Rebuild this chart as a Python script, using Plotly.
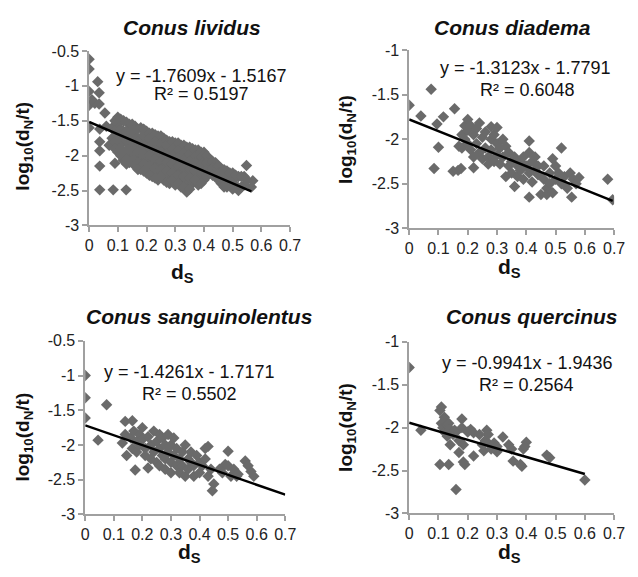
import plotly.graph_objects as go

# The page body keeps the browser's default 8px margin, so the figure is
# sized to fill the 638x577 window exactly inside that margin.
WIN_W, WIN_H, OFF = 638, 577, 8
W, H = WIN_W - 2 * OFF, WIN_H - 2 * OFF

titles = ["Conus lividus", "Conus diadema", "Conus sanguinolentus", "Conus quercinus"]
slopes = [-1.7609, -1.3123, -1.4261, -0.9941]
intercepts = [-1.5167, -1.7791, -1.7171, -1.9436]
r2 = [0.5197, 0.6048, 0.5502, 0.2564]
line_x_end = [0.565, 0.695, 0.70, 0.60]
y_tops = [-0.5, -1, -0.5, -1]

x_ticks = [0, 0.1, 0.2, 0.3, 0.4, 0.5, 0.6, 0.7]
x_tick_labels = ["0", "0.1", "0.2", "0.3", "0.4", "0.5", "0.6", "0.7"]
y_ticks = [-3, -2.5, -2, -1.5, -1, -0.5]
y_tick_labels = ["-3", "-2.5", "-2", "-1.5", "-1", "-0.5"]

# Conus lividus
liv_x = [0, 0, 0, 0, 0, 0.03, 0.035, 0.035, 0.02, 0.01, 0.055, 0.037, 0.037, 0.037, 0.037, 0.037, 0.084, 0.129, 0.09, 0.07, 0.06, 0.12,
         0.08, 0.08, 0.1, 0.1, 0.1, 0.1, 0.1, 0.12, 0.12, 0.12, 0.12, 0.12,
         0.14, 0.14, 0.14, 0.14, 0.14, 0.16, 0.16, 0.16, 0.16, 0.16,
         0.18, 0.18, 0.18, 0.18, 0.18, 0.2, 0.2, 0.2, 0.2, 0.2, 0.2,
         0.22, 0.22, 0.22, 0.22, 0.22, 0.22, 0.24, 0.24, 0.24, 0.24, 0.24, 0.24,
         0.26, 0.26, 0.26, 0.26, 0.26, 0.26, 0.28, 0.28, 0.28, 0.28, 0.28, 0.28,
         0.30, 0.30, 0.30, 0.30, 0.30, 0.30, 0.32, 0.32, 0.32, 0.32, 0.32, 0.32,
         0.34, 0.34, 0.34, 0.34, 0.34, 0.34, 0.36, 0.36, 0.36, 0.36, 0.36,
         0.38, 0.38, 0.38, 0.38, 0.38, 0.40, 0.40, 0.40, 0.40,
         0.42, 0.42, 0.42, 0.44, 0.44, 0.44, 0.46, 0.46, 0.46, 0.48, 0.48, 0.48,
         0.50, 0.50, 0.50, 0.52, 0.548, 0.52, 0.54, 0.54, 0.565, 0.57,
         0.09, 0.09, 0.09, 0.09, 0.11, 0.11, 0.11, 0.11, 0.11,
         0.13, 0.13, 0.13, 0.13, 0.13, 0.13, 0.15, 0.15, 0.15, 0.15, 0.15,
         0.17, 0.17, 0.17, 0.17, 0.17, 0.19, 0.19, 0.19, 0.19, 0.19, 0.19,
         0.21, 0.21, 0.21, 0.21, 0.21, 0.21, 0.23, 0.23, 0.23, 0.23, 0.23, 0.23,
         0.25, 0.25, 0.25, 0.25, 0.25, 0.25, 0.27, 0.27, 0.27, 0.27, 0.27, 0.27,
         0.29, 0.29, 0.29, 0.29, 0.29, 0.29, 0.31, 0.31, 0.31, 0.31, 0.31, 0.31,
         0.33, 0.33, 0.33, 0.33, 0.33, 0.33, 0.35, 0.35, 0.35, 0.35, 0.35, 0.35,
         0.37, 0.37, 0.37, 0.37, 0.37, 0.39, 0.39, 0.39, 0.39, 0.39,
         0.41, 0.41, 0.41, 0.41, 0.43, 0.43, 0.43, 0.45, 0.45, 0.45,
         0.47, 0.47, 0.47, 0.49, 0.49, 0.51, 0.51, 0.53, 0.53, 0.55]
liv_y = [-0.62, -0.76, -1.08, -1.28, -1.6, -0.94, -1.1, -1.26, -1.25, -1.2, -1.39, -1.62, -1.8, -1.93, -2.15, -2.49, -2.49, -2.49, -2.11, -1.85, -1.58, -2.07,
         -1.6, -1.75, -1.45, -1.55, -1.7, -1.85, -1.95, -1.5, -1.65, -1.8, -1.95, -2.05,
         -1.55, -1.7, -1.85, -2.0, -2.1, -1.58, -1.72, -1.88, -2.02, -2.15,
         -1.6, -1.75, -1.9, -2.05, -2.2, -1.65, -1.78, -1.92, -2.05, -2.18, -2.25,
         -1.68, -1.82, -1.95, -2.1, -2.2, -2.3, -1.72, -1.85, -2.0, -2.12, -2.25, -2.35,
         -1.75, -1.88, -2.02, -2.15, -2.28, -2.35, -1.8, -1.92, -2.05, -2.18, -2.3, -2.4,
         -1.82, -1.95, -2.08, -2.2, -2.32, -2.42, -1.85, -1.98, -2.1, -2.22, -2.35, -2.45,
         -1.88, -2.0, -2.12, -2.25, -2.38, -2.52, -1.9, -2.03, -2.15, -2.28, -2.4,
         -1.92, -2.05, -2.18, -2.3, -2.42, -1.95, -2.1, -2.22, -2.35,
         -2.05, -2.15, -2.25, -2.1, -2.2, -2.3, -2.18, -2.28, -2.4, -2.22, -2.3, -2.45,
         -2.25, -2.35, -2.48, -2.3, -2.14, -2.5, -2.3, -2.42, -2.45, -2.36,
         -1.5, -1.65, -1.8, -1.9, -1.48, -1.62, -1.75, -1.9, -2.0,
         -1.52, -1.65, -1.78, -1.92, -2.05, -2.12, -1.55, -1.65, -1.8, -1.95, -2.08,
         -1.62, -1.8, -1.95, -2.1, -2.2, -1.62, -1.7, -1.85, -1.98, -2.12, -2.22,
         -1.68, -1.75, -1.88, -2.0, -2.15, -2.28, -1.7, -1.8, -1.92, -2.05, -2.18, -2.32,
         -1.72, -1.82, -1.95, -2.08, -2.2, -2.3, -1.78, -1.85, -1.98, -2.1, -2.22, -2.38,
         -1.8, -1.9, -2.0, -2.12, -2.25, -2.35, -1.82, -1.92, -2.02, -2.15, -2.28, -2.4,
         -1.85, -1.95, -2.05, -2.18, -2.3, -2.45, -1.88, -1.98, -2.08, -2.2, -2.32, -2.48,
         -1.92, -2.0, -2.1, -2.22, -2.35, -1.95, -2.02, -2.12, -2.25, -2.4,
         -2.0, -2.1, -2.2, -2.3, -2.08, -2.18, -2.28, -2.15, -2.25, -2.35,
         -2.2, -2.32, -2.45, -2.25, -2.38, -2.28, -2.42, -2.3, -2.45, -2.35]

# Conus diadema
dia_x = [0, 0.04, 0.075, 0.095, 0.117, 0.155, 0.1, 0.085, 0.15, 0.167, 0.177,
         0.17, 0.18, 0.18, 0.19, 0.19, 0.2, 0.2, 0.2, 0.21, 0.21, 0.22, 0.22, 0.22, 0.23, 0.23, 0.24, 0.24,
         0.25, 0.25, 0.26, 0.26, 0.27, 0.27, 0.28, 0.28, 0.28, 0.29, 0.29, 0.3, 0.3, 0.3, 0.31, 0.31,
         0.32, 0.32, 0.33, 0.33, 0.34, 0.34, 0.35, 0.35, 0.36, 0.36, 0.37, 0.37, 0.38, 0.38, 0.39, 0.39,
         0.4, 0.41, 0.41, 0.41, 0.41, 0.42, 0.42, 0.43, 0.43, 0.44, 0.44, 0.45, 0.46, 0.46, 0.47, 0.47,
         0.48, 0.48, 0.49, 0.49, 0.5, 0.5, 0.51, 0.52, 0.52, 0.53, 0.54, 0.55, 0.555, 0.56, 0.57, 0.58,
         0.678, 0.695]
dia_y = [-1.62, -1.74, -1.44, -1.83, -1.75, -1.66, -2.09, -2.33, -2.36, -2.35, -2.33,
         -2.08, -1.95, -2.1, -1.85, -2.0, -1.78, -1.9, -2.05, -1.85, -2.12, -1.95, -2.2, -2.32, -1.88, -2.05, -1.82, -2.15,
         -1.98, -2.22, -2.1, -1.92, -2.2, -2.28, -1.86, -2.0, -2.12, -2.25, -1.95, -1.87, -2.05, -2.18, -2.1, -2.28,
         -2.0, -2.2, -2.42, -2.08, -2.3, -2.15, -2.38, -2.25, -2.2, -2.53, -2.3, -2.42, -2.25, -2.35, -2.45, -2.2,
         -2.3, -2.02, -2.15, -2.38, -2.65, -2.25, -2.48, -2.2, -2.35, -2.4, -2.3, -2.62, -2.45, -2.3, -2.55, -2.62,
         -2.38, -2.5, -2.22, -2.6, -2.3, -2.45, -2.38, -2.1, -2.5, -2.42, -2.55, -2.38, -2.65, -2.45, -2.5, -2.43,
         -2.45, -2.68]

# Conus sanguinolentus
san_x = [0, 0, 0, 0.045, 0.075,
         0.13, 0.14, 0.14, 0.145, 0.16, 0.165, 0.165, 0.17, 0.175, 0.18, 0.18, 0.19, 0.19, 0.2, 0.2,
         0.21, 0.21, 0.22, 0.22, 0.23, 0.23, 0.24, 0.24, 0.25, 0.25, 0.26, 0.26, 0.26, 0.27, 0.27,
         0.28, 0.28, 0.28, 0.29, 0.29, 0.3, 0.3, 0.3, 0.31, 0.31, 0.32, 0.32, 0.33, 0.33, 0.34, 0.34,
         0.35, 0.35, 0.36, 0.36, 0.37, 0.37, 0.38, 0.38, 0.39, 0.4, 0.4, 0.41, 0.42, 0.42, 0.43, 0.43,
         0.44, 0.45, 0.445, 0.47, 0.48, 0.49, 0.5, 0.5, 0.51, 0.52, 0.53, 0.535, 0.56, 0.57, 0.58, 0.59]
san_y = [-1.0, -1.32, -1.61, -1.93, -1.42,
         -1.97, -1.66, -1.85, -2.15, -1.9, -1.65, -2.05, -1.8, -2.36, -1.95, -2.1, -1.85, -2.0, -1.75, -1.92,
         -2.05, -2.15, -1.88, -2.33, -2.0, -2.2, -1.8, -2.1, -1.95, -2.25, -2.05, -1.85, -2.3, -2.15, -1.9,
         -2.0, -2.35, -2.2, -2.1, -1.85, -2.25, -2.4, -2.0, -2.15, -1.9, -2.3, -2.05, -2.4, -2.2, -2.1, -2.3,
         -2.0, -2.45, -2.2, -2.35, -2.1, -2.25, -2.45, -2.3, -2.15, -2.4, -2.25, -2.3, -2.05, -2.2, -2.02, -2.45,
         -2.35, -2.56, -2.66, -2.35, -2.4, -2.28, -2.09, -2.3, -2.45, -2.35, -2.45, -2.42, -2.23, -2.3, -2.38, -2.45]

# Conus quercinus
que_x = [0, 0.04, 0.105, 0.11, 0.11, 0.115, 0.12, 0.12, 0.125, 0.13, 0.13, 0.135, 0.14, 0.14, 0.15, 0.155,
         0.16, 0.17, 0.17, 0.18, 0.18, 0.185, 0.19, 0.185, 0.105, 0.135, 0.16, 0.2, 0.21, 0.22, 0.22, 0.24,
         0.25, 0.255, 0.26, 0.265, 0.27, 0.275, 0.28, 0.29, 0.3, 0.3, 0.32, 0.34, 0.35, 0.355, 0.385, 0.38,
         0.39, 0.4, 0.395, 0.47, 0.48, 0.6]
que_y = [-1.3, -2.03, -1.8, -1.76, -1.95, -2.0, -1.88, -2.05, -1.92, -1.97, -2.1, -1.95, -2.02, -2.2, -2.08, -2.03,
         -2.05, -2.15, -2.29, -1.9, -2.0, -2.2, -2.43, -2.4, -2.43, -2.43, -2.72, -2.05, -2.02, -2.33, -2.06, -2.08,
         -2.2, -2.27, -2.15, -2.03, -2.08, -2.2, -2.25, -2.18, -2.28, -2.22, -2.11, -2.2, -2.25, -2.39, -2.45, -2.43,
         -2.25, -2.17, -2.22, -2.32, -2.35, -2.61]

xs = [liv_x, dia_x, san_x, que_x]
ys = [liv_y, dia_y, san_y, que_y]

# plot-area boxes in window pixels: (left, right, top, bottom)
boxes = [(87, 293, 44, 224), (415, 625, 43, 227), (83, 288, 343, 522), (415, 625, 344, 521)]


def px(x):
    return (x - OFF) / W


def py(y):
    return 1 - (y - OFF) / H


FONT = "Liberation Sans, Arial, sans-serif"
fig = go.Figure()
layout = dict(width=W, height=H, autosize=False, margin=dict(l=0, r=0, t=0, b=0),
              paper_bgcolor="white", plot_bgcolor="white", showlegend=False,
              font=dict(family=FONT, color="#222"))
annotations = []

for i in range(4):
    sfx = "" if i == 0 else str(i + 1)
    xa, ya = "x" + sfx, "y" + sfx
    l, r, t, b = boxes[i]
    fig.add_trace(go.Scatter(x=xs[i], y=ys[i], mode="markers", xaxis=xa, yaxis=ya,
                             marker=dict(symbol="diamond", size=8.8, color="#6a6a6a",
                                         line=dict(width=0))))
    lx = [0, line_x_end[i]]
    ly = [slopes[i] * v + intercepts[i] for v in lx]
    fig.add_trace(go.Scatter(x=lx, y=ly, mode="lines", xaxis=xa, yaxis=ya,
                             line=dict(color="black", width=2.5)))
    ax_common = dict(showgrid=False, zeroline=False, showline=True, linecolor="#a0a0a0", linewidth=1.5,
                     ticks="outside", ticklen=5, tickcolor="#a0a0a0", tickwidth=1.5,
                     tickfont=dict(size=16, color="#222", family=FONT))
    yv = [v for v in y_ticks if v <= y_tops[i] + 1e-9]
    yl = [y_tick_labels[k] for k, v in enumerate(y_ticks) if v <= y_tops[i] + 1e-9]
    layout["xaxis" + sfx] = dict(ax_common, domain=[px(l), px(r)], range=[0, 0.7], anchor=ya,
                                 tickvals=x_ticks, ticktext=x_tick_labels)
    layout["yaxis" + sfx] = dict(ax_common, domain=[py(b), py(t)], range=[-3, y_tops[i]], anchor=xa,
                                 tickvals=yv, ticktext=yl)

title_pos = [(192, 20), (521, 20), (200, 318), (541, 318)]
eq_pos = [(202, 70), (534, 62), (190, 375), (536, 366)]
r2_pos = [(202, 88), (536, 84), (190, 398), (535, 389)]
ylab_pos = [(20, 142), (351, 135), (20, 442), (351, 432)]
xlab_pos = [(183, 273), (518, 268), (190, 562), (518, 562)]

for i in range(4):
    annotations.append(dict(x=px(title_pos[i][0]), y=py(title_pos[i][1]), xref="paper", yref="paper",
                            text="<b><i>" + titles[i] + "</i></b>", showarrow=False,
                            font=dict(size=21, color="#111", family=FONT), xanchor="center", yanchor="middle"))
    b = intercepts[i]
    eq = "y = %.4fx - %.4f" % (slopes[i], abs(b))
    annotations.append(dict(x=px(eq_pos[i][0]), y=py(eq_pos[i][1]), xref="paper", yref="paper",
                            text=eq, showarrow=False, font=dict(size=18, color="#111", family=FONT),
                            xanchor="center", yanchor="middle"))
    annotations.append(dict(x=px(r2_pos[i][0]), y=py(r2_pos[i][1]), xref="paper", yref="paper",
                            text="R² = %.4f" % r2[i], showarrow=False, font=dict(size=18, color="#111", family=FONT),
                            xanchor="center", yanchor="middle"))
    annotations.append(dict(x=px(ylab_pos[i][0]), y=py(ylab_pos[i][1]), xref="paper", yref="paper",
                            text="<b>log<sub>10</sub>(d<sub>N</sub>/t)</b>", showarrow=False, textangle=-90,
                            font=dict(size=19, color="#111", family=FONT), xanchor="center", yanchor="middle"))
    annotations.append(dict(x=px(xlab_pos[i][0]), y=py(xlab_pos[i][1]), xref="paper", yref="paper",
                            text="<b>d<sub>S</sub></b>", showarrow=False,
                            font=dict(size=21, color="#111", family=FONT), xanchor="center", yanchor="middle"))

layout["annotations"] = annotations
fig.update_layout(**layout)
fig.write_html("out.html", config={"displayModeBar": False})
